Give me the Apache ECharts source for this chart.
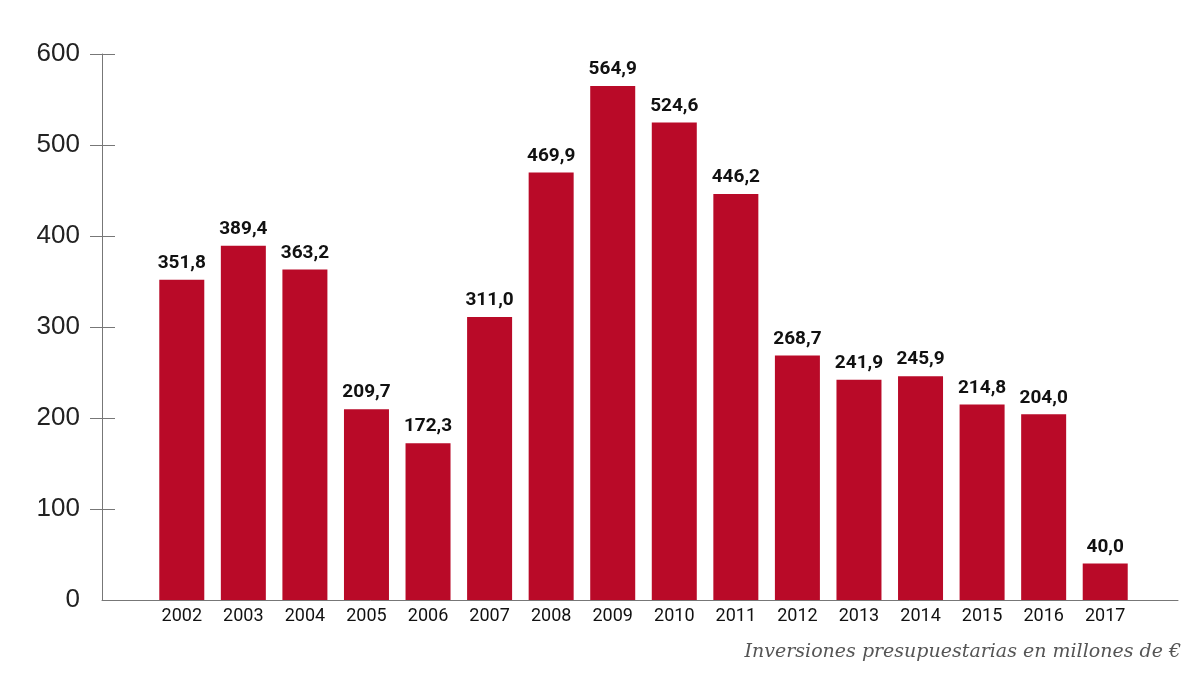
<!DOCTYPE html>
<html>
<head>
<meta charset="utf-8">
<script src="https://cdn.jsdelivr.net/npm/echarts@6/dist/echarts.min.js"></script>
<style>
  html, body { margin: 0; padding: 0; background: #fff; }
  #main { width: 1200px; height: 675px; }
</style>
</head>
<body>
<div id="main"></div>
<script>
// años
const years = ['2002', '2003', '2004', '2005', '2006', '2007', '2008', '2009',
  '2010', '2011', '2012', '2013', '2014', '2015', '2016', '2017'];
// inversiones en millones de euros
const inversiones = [351.8, 389.4, 363.2, 209.7, 172.3, 311.0, 469.9, 564.9,
  524.6, 446.2, 268.7, 241.9, 245.9, 214.8, 204.0, 40.0];
// escala del eje y
const yMin = 0;
const yMax = 600;
const yStep = 100;
const caption = 'Inversiones presupuestarias en millones de €';

const chart = echarts.init(document.getElementById('main'));

const option = {
  animation: false,
  backgroundColor: '#fff',
  title: {
    text: caption,
    right: 14,
    bottom: 8,
    textStyle: {
      fontFamily: 'DejaVu Serif',
      fontStyle: 'italic',
      fontWeight: 'normal',
      fontSize: 19,
      color: '#555'
    }
  },
  grid: [
    // barras
    { left: 151, right: 64, top: 54, bottom: 75, outerBoundsMode: 'none' },
    // ejes
    { left: 102, right: 22, top: 54, bottom: 75, outerBoundsMode: 'none' },
    // marcas cruzadas del eje y
    { left: 90, width: 25, top: 54, bottom: 75, outerBoundsMode: 'none' }
  ],
  xAxis: [
    {
      type: 'category',
      gridIndex: 0,
      data: years,
      axisLine: { show: false },
      axisTick: { show: false },
      axisLabel: {
        margin: 7,
        fontFamily: 'Roboto',
        fontSize: 18,
        color: '#111'
      }
    },
    {
      type: 'value',
      gridIndex: 1,
      min: 0,
      max: 1,
      axisLine: { show: true, onZero: false, lineStyle: { color: '#777', width: 1 } },
      axisTick: { show: false },
      axisLabel: { show: false },
      splitLine: { show: false }
    },
    {
      type: 'value',
      gridIndex: 2,
      min: 0,
      max: 1,
      axisLine: { show: false },
      axisTick: { show: false },
      axisLabel: { show: false },
      splitLine: { show: false }
    }
  ],
  yAxis: [
    {
      type: 'value',
      gridIndex: 0,
      min: yMin,
      max: yMax,
      interval: yStep,
      show: false
    },
    {
      type: 'value',
      gridIndex: 1,
      min: yMin,
      max: yMax,
      interval: yStep,
      axisLine: { show: true, lineStyle: { color: '#777', width: 1 } },
      axisTick: { show: false },
      axisLabel: {
        margin: 22,
        fontFamily: 'Liberation Sans',
        fontSize: 26,
        color: '#222'
      },
      splitLine: { show: false }
    },
    {
      type: 'value',
      gridIndex: 2,
      min: yMin,
      max: yMax,
      interval: yStep,
      axisLine: { show: false },
      axisTick: { show: false },
      axisLabel: { show: false },
      splitLine: { show: true, showMinLine: false, lineStyle: { color: '#777', width: 1 } }
    }
  ],
  series: [
    {
      type: 'bar',
      xAxisIndex: 0,
      yAxisIndex: 0,
      data: inversiones,
      barWidth: 45,
      itemStyle: { color: '#b90a28' },
      label: {
        show: true,
        position: 'top',
        distance: 7,
        fontFamily: 'Roboto',
        fontWeight: 'bold',
        fontSize: 19,
        color: '#111',
        formatter: p => p.value.toFixed(1).replace('.', ',')
      }
    }
  ]
};

chart.setOption(option);
</script>
</body>
</html>
